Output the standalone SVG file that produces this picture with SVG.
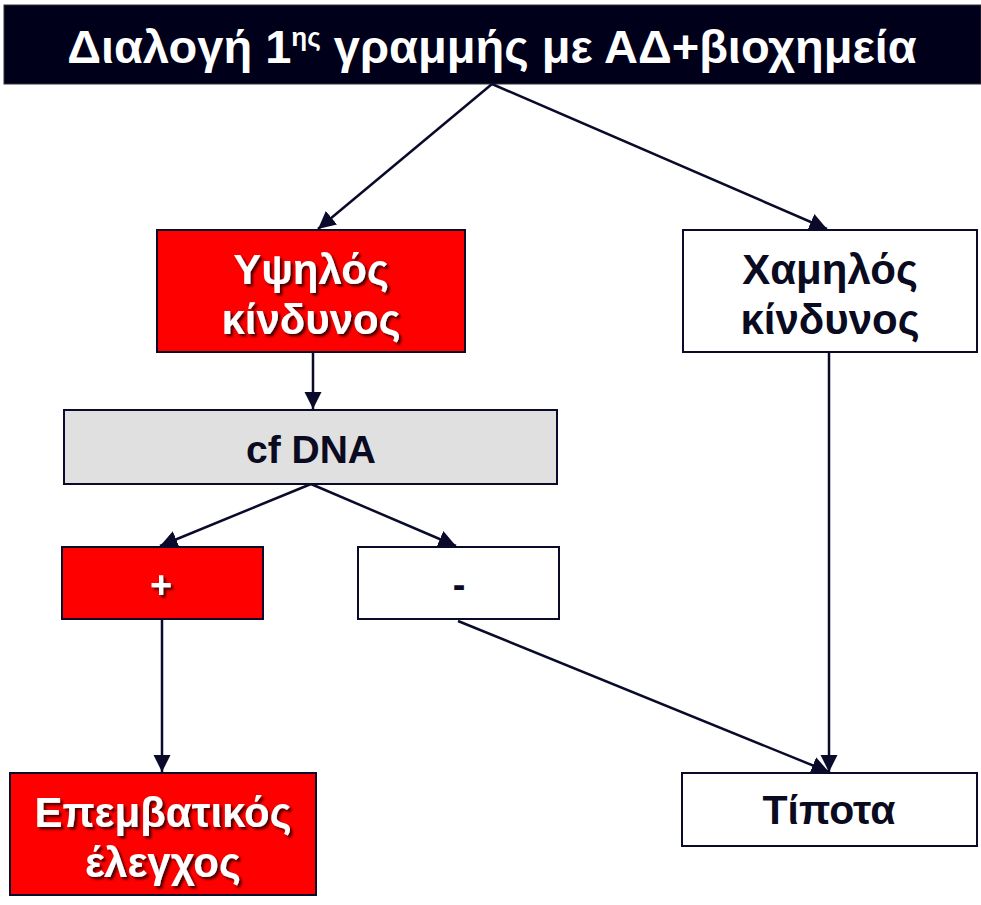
<svg xmlns="http://www.w3.org/2000/svg" width="981" height="905" viewBox="0 0 981 905">
<defs>
<style>
.box{stroke:#0a0a2a;stroke-width:2}
.red{fill:#ff0000}
.wht{fill:#ffffff}
.gry{fill:#e0e0e0}
.t{font-family:"Liberation Sans",Arial,sans-serif;font-weight:bold;text-anchor:middle}
.tw{fill:#ffffff;filter:url(#sh)}
.td{fill:#0a0a20}
.con{stroke:#0a0a2a;stroke-width:2.5;fill:none;marker-end:url(#ah)}
</style>
<filter id="sh" x="-10%" y="-20%" width="130%" height="150%">
<feDropShadow dx="2.5" dy="2.5" stdDeviation="0.8" flood-color="#3a0000" flood-opacity="0.9"/>
</filter>
<marker id="ah" viewBox="0 0 10 10" refX="10" refY="5" markerWidth="7" markerHeight="7" markerUnits="strokeWidth" orient="auto">
<path d="M0,0 L10,5 L0,10 z" fill="#0a0a2a"/>
</marker>
</defs>
<rect width="981" height="905" fill="#ffffff"/>
<g id="title">
<rect x="4" y="5" width="977" height="79" fill="#00001a" stroke="#333" stroke-width="1"/>
<text class="t" x="492" y="63" font-size="47" fill="#ffffff">Διαλογή 1<tspan font-size="26" dy="-17">ης</tspan><tspan dy="17"> γραμμής με ΑΔ+βιοχημεία</tspan></text>
</g>
<g id="connectors">
<line class="con" x1="492" y1="84" x2="318" y2="229"/>
<line class="con" x1="492" y1="84" x2="827" y2="229"/>
<line class="con" x1="313" y1="352" x2="313" y2="409"/>
<line class="con" x1="311" y1="484" x2="160" y2="546"/>
<line class="con" x1="311" y1="484" x2="456" y2="546"/>
<line class="con" x1="162" y1="619" x2="162" y2="772"/>
<line class="con" x1="458" y1="621" x2="829" y2="772"/>
<line class="con" x1="829" y1="352" x2="829" y2="772"/>
</g>
<g id="high">
<rect class="box red" x="157" y="230" width="308" height="122"/>
<text class="t tw" x="311" y="284" font-size="42">Υψηλός</text>
<text class="t tw" x="311" y="334" font-size="42">κίνδυνος</text>
</g>
<g id="low">
<rect class="box wht" x="683" y="230" width="294" height="122"/>
<text class="t td" x="830" y="284" font-size="42">Χαμηλός</text>
<text class="t td" x="830" y="334" font-size="42">κίνδυνος</text>
</g>
<g id="cfdna">
<rect class="box gry" x="64" y="410" width="493" height="74"/>
<text class="t td" x="311" y="463" font-size="39">cf DNA</text>
</g>
<g id="pos">
<rect class="box red" x="62" y="547" width="201" height="72"/>
<text class="t tw" x="161" y="598" font-size="38">+</text>
</g>
<g id="neg">
<rect class="box wht" x="358" y="547" width="201" height="72"/>
<text class="t td" x="459" y="598" font-size="38">-</text>
</g>
<g id="invasive">
<rect class="box red" x="10" y="773" width="306" height="122"/>
<text class="t tw" x="163" y="827" font-size="42">Επεμβατικός</text>
<text class="t tw" x="163" y="877" font-size="42">έλεγχος</text>
</g>
<g id="nothing">
<rect class="box wht" x="682" y="773" width="295" height="73"/>
<text class="t td" x="829" y="824" font-size="41">Τίποτα</text>
</g>
</svg>
